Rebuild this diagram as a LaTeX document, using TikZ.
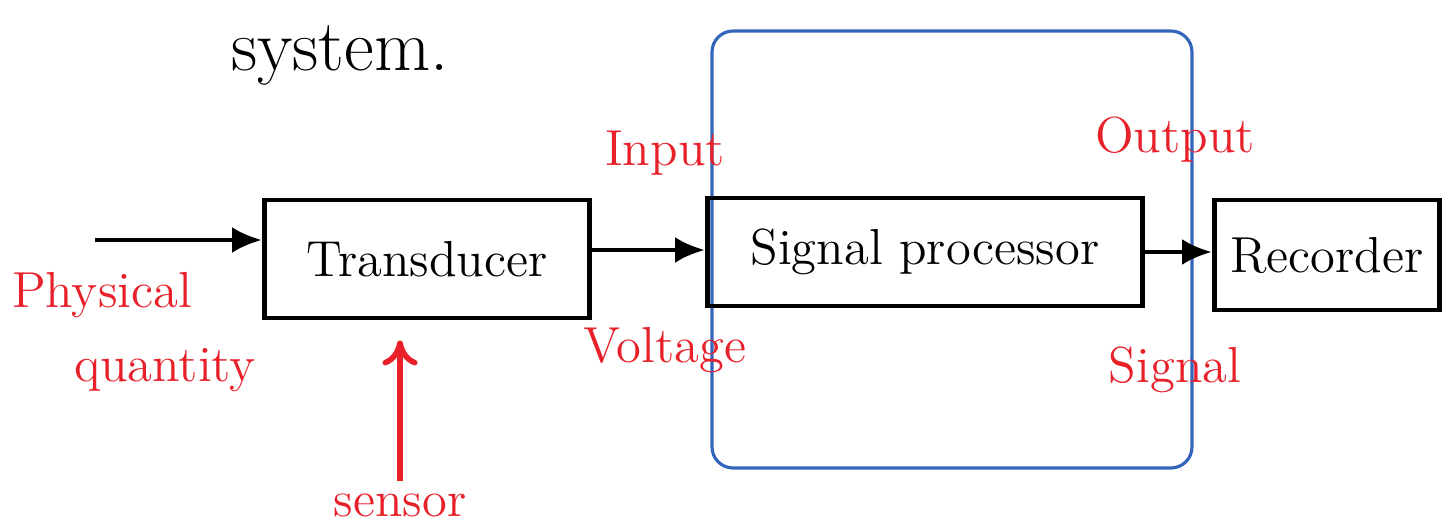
\documentclass[tikz,border=0pt]{standalone}
\definecolor{ink}{HTML}{000000}
\definecolor{pen}{HTML}{E8202A}
\definecolor{frame}{HTML}{3366BB}
\usepackage{tikz}
\usetikzlibrary{arrows.meta,positioning}

\begin{document}
\begin{tikzpicture}[
  block/.style={rectangle, draw=ink, line width=1.4pt, font=\Large},
  note/.style={text=pen, font=\Large},
  flow/.style={draw=ink, line width=1.4pt, -{Latex[length=3mm,width=2.6mm]}},
]
\useasboundingbox (0,0) rectangle (14.51,5.31);
\node[font=\huge, text=ink] (title) at (3.40,4.76) {system.};
% the open system around the processor
\node[rectangle, draw=frame, line width=0.9pt, rounded corners=6pt, minimum width=4.8cm, minimum height=4.37cm] (sysbox) at (9.52,2.815) {};
\node[block, minimum width=3.25cm, minimum height=1.18cm] (trans) at (4.27,2.72) {Transducer};
\node[block, minimum width=4.35cm, minimum height=1.08cm] (proc) at (9.25,2.79) {Signal processor};
\node[block, minimum width=2.25cm, minimum height=1.10cm] (rec) at (13.27,2.76) {Recorder};
\coordinate (pq) at (0.95,2.91);
\coordinate (volt-out) at ([yshift=0.9mm]trans.east);
\draw[flow] (pq) -- (pq -| trans.west);
\draw[flow] (volt-out) -- (volt-out -| proc.west);
\draw[flow] (proc.east) -- (proc.east -| rec.west);
% red notes
\node[note] (phys) at (1.02,2.36) {Physical};
\node[note] (qty) at (1.65,1.61) {quantity};
\node[note] (sensor) at (4.00,0.26) {sensor};
\draw[pen, line width=1.6pt, -{To[length=2.5mm,width=3.5mm]}, shorten >=2mm] (sensor.north) -- (sensor.north |- trans.south);
\node[note] (inp) at (6.65,3.78) {Input};
\node[note] (volt) at (6.65,1.81) {Voltage};
\node[note] (outp) at (11.75,3.91) {Output};
\node[note] (sig) at (11.75,1.61) {Signal};
\end{tikzpicture}
\end{document}
